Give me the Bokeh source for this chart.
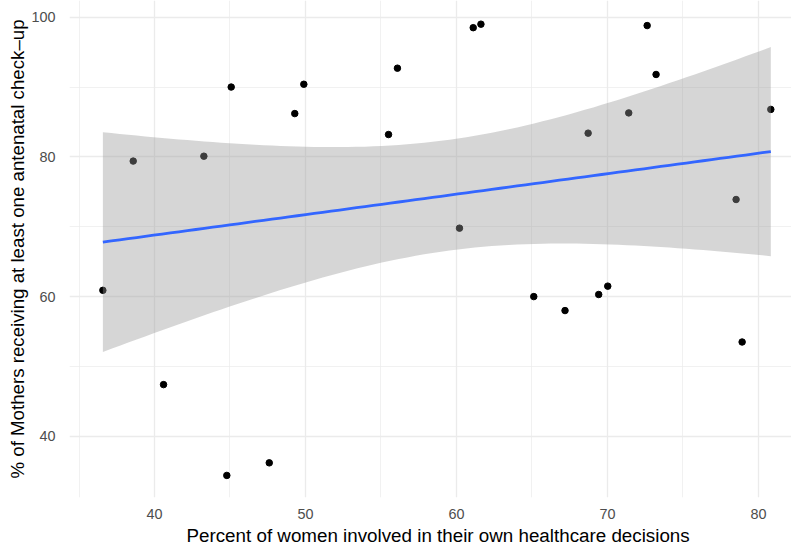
import numpy as np
from bokeh.plotting import figure
from bokeh.models import Range1d, FixedTicker, Title
from bokeh.embed import file_html
from bokeh.resources import INLINE

# Country-level survey values
women_decisions = [36.58, 38.59, 40.60, 43.27, 44.79, 45.08, 47.60, 49.29, 49.89,
                   55.50, 56.09, 60.20, 61.11, 61.62, 65.12, 67.19, 68.72, 69.42,
                   70.02, 71.41, 72.63, 73.22, 78.52, 78.92, 80.82]
antenatal_checkup = [60.9, 79.4, 47.4, 80.1, 34.4, 90.0, 36.2, 86.2, 90.4,
                     83.2, 92.7, 69.8, 98.5, 99.0, 60.0, 58.0, 83.4, 60.3,
                     61.5, 86.3, 98.8, 91.8, 73.9, 53.5, 86.8]

x_major = [40, 50, 60, 70, 80]
x_minor = [35, 45, 55, 65, 75]
y_major = [40, 60, 80, 100]
y_minor = [50, 70, 90]

x_title = "Percent of women involved in their own healthcare decisions"
y_title = "% of Mothers receiving at least one antenatal check–up"

# Ordinary least squares fit with a 95% confidence band
x = np.array(women_decisions)
y = np.array(antenatal_checkup)
n = len(x)
slope, intercept = np.polyfit(x, y, 1)
resid = y - (intercept + slope * x)
s = np.sqrt(np.sum(resid ** 2) / (n - 2))
sxx = np.sum((x - x.mean()) ** 2)
t_crit = 2.0687  # t quantile, 0.975, df = 23
xs = np.linspace(x.min(), x.max(), 80)
fit = intercept + slope * xs
se = s * np.sqrt(1.0 / n + (xs - x.mean()) ** 2 / sxx)
lower = fit - t_crit * se
upper = fit + t_crit * se

p = figure(width=791, height=546, output_backend="svg", toolbar_location=None,
           x_range=Range1d(34.37, 82.19), y_range=Range1d(31.24, 102.39),
           min_border_left=69, min_border_right=0, min_border_top=0,
           min_border_bottom=48)
p.outline_line_color = None
p.background_fill_color = "white"
p.border_fill_color = "white"

p.xaxis.ticker = FixedTicker(ticks=x_major, minor_ticks=x_minor)
p.yaxis.ticker = FixedTicker(ticks=y_major, minor_ticks=y_minor)

for g in (p.xgrid, p.ygrid):
    g.grid_line_color = "#EBEBEB"
    g.grid_line_width = 1.3
    g.minor_grid_line_color = "#EBEBEB"
    g.minor_grid_line_width = 0.7

for ax in (p.xaxis, p.yaxis):
    ax.axis_line_color = None
    ax.major_tick_line_color = None
    ax.minor_tick_line_color = None
    ax.major_label_text_font = "Liberation Sans"
    ax.major_label_text_font_size = "14.4px"
    ax.major_label_text_color = "#4D4D4D"

p.xaxis.major_label_standoff = 5
p.yaxis.major_label_standoff = 8
p.yaxis.axis_label = y_title
p.yaxis.axis_label_standoff = 0
p.yaxis.axis_label_text_font = "Liberation Sans"
p.yaxis.axis_label_text_font_size = "18.7px"
p.yaxis.axis_label_text_font_style = "normal"
p.yaxis.axis_label_text_color = "black"

p.scatter(women_decisions, antenatal_checkup, size=6.5, color="black")
p.varea(x=xs, y1=lower, y2=upper, fill_color="#999999", fill_alpha=0.4)
p.line(xs, fit, line_color="#3366FF", line_width=2.8)

# x-axis title, placed from the left edge so it sits under the wider panel
p.add_layout(Title(text=x_title, align="left", offset=117, standoff=2,
                   text_font="Liberation Sans", text_font_size="18.8px",
                   text_font_style="normal", text_color="black"), "below")

open("out.html", "w").write(file_html(p, INLINE))
